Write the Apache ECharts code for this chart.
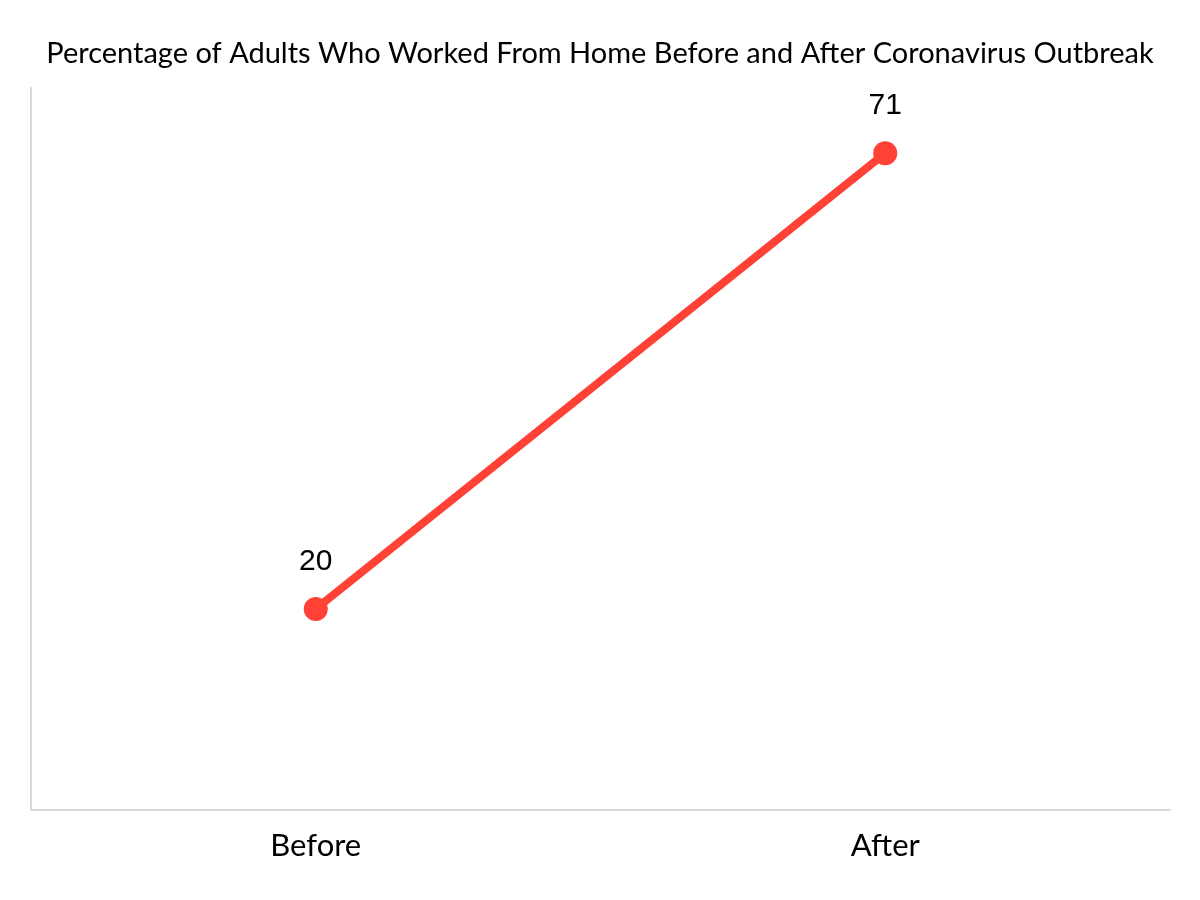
<!DOCTYPE html>
<html>
<head>
<meta charset="utf-8">
<script src="https://cdn.jsdelivr.net/npm/echarts@6/dist/echarts.min.js"></script>
<style>html,body{margin:0;padding:0;background:#fff;}#c{width:1200px;height:900px;}</style>
</head>
<body>
<div id="c"></div>
<script>
const titleText = 'Percentage of Adults Who Worked From Home Before and After Coronavirus Outbreak';
const categories = ['Before', 'After'];
const values = [20, 71];

const chart = echarts.init(document.getElementById('c'), null, {renderer: 'canvas'});
chart.setOption({
  animation: false,
  backgroundColor: '#ffffff',
  title: {
    text: titleText,
    left: 'center',
    top: 34,
    textStyle: {fontFamily: 'Lato', fontSize: 29, fontWeight: 'normal', color: '#000'}
  },
  grid: {left: 31, right: 30, top: 88, bottom: 90, containLabel: false},
  xAxis: {
    type: 'category',
    data: categories,
    boundaryGap: true,
    axisLine: {show: true, onZero: false, lineStyle: {color: '#d9d9d9', width: 2}},
    axisTick: {show: false},
    axisLabel: {fontFamily: 'Lato', fontSize: 31, color: '#000', margin: 20}
  },
  yAxis: {
    type: 'value',
    min: -2.5,
    max: 78.3,
    axisLine: {show: true, lineStyle: {color: '#d9d9d9', width: 2}},
    axisTick: {show: false},
    axisLabel: {show: false},
    splitLine: {show: false}
  },
  series: [{
    type: 'line',
    data: values,
    symbol: 'circle',
    symbolSize: 24,
    lineStyle: {color: '#ff4136', width: 8},
    itemStyle: {color: '#ff4136'},
    label: {
      show: true,
      position: 'top',
      distance: 20,
      fontFamily: 'Liberation Sans',
      fontSize: 30,
      color: '#000'
    }
  }]
});
</script>
</body>
</html>
